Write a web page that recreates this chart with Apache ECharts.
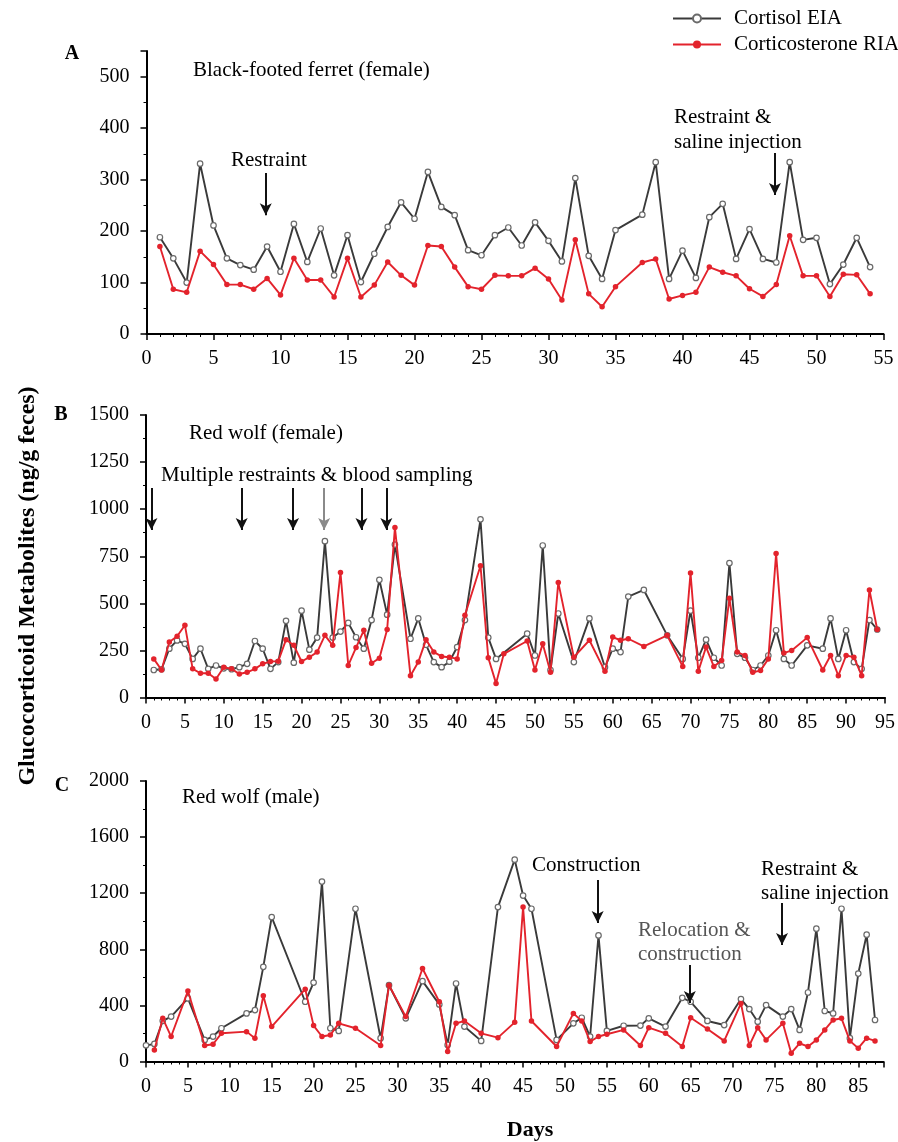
<!DOCTYPE html>
<html>
<head>
<meta charset="utf-8">
<script src="https://cdn.jsdelivr.net/npm/echarts@6/dist/echarts.min.js"></script>
<style>
  html, body { margin: 0; padding: 0; background: #fff; }
  #chart { width: 898px; height: 1142px; }
</style>
</head>
<body>
<div id="chart"></div>
<script>
// ---- Panel A: black-footed ferret (female) ----
const ferretDays = [1,2,3,4,5,6,7,8,9,10,11,12,13,14,15,16,17,18,19,20,21,22,23,24,25,26,27,28,29,30,31,32,33,34,35,36,37,38,39,40,41,42,43,44,45,46,47,48,49,50,51,52,53,54];
const ferretCortisol = [188,147,100,331,211,147,134,125,170,121,214,140,205,114,192,101,156,208,256,224,315,247,231,163,153,192,207,172,217,181,141,303,152,107,202,null,232,334,107,162,109,227,253,146,204,146,139,334,183,187,97,135,187,130];
const ferretCorticosterone = [170,87,81,161,135,96,96,87,108,76,147,105,105,72,147,72,95,140,114,95,172,170,130,92,87,114,113,113,128,107,66,183,78,53,92,null,139,146,68,75,81,130,120,113,88,73,96,191,113,113,73,116,115,78];

// ---- Panel B: red wolf (female) ----
const wolfFemaleDays = [1,2,3,4,5,6,7,8,9,10,11,12,13,14,15,16,17,18,19,20,21,22,23,24,25,26,27,28,29,30,31,32,33,34,35,36,37,38,39,40,41,42,43,44,45,46,47,48,49,50,51,52,53,54,55,56,57,58,59,60,61,62,63,64,65,66,67,68,69,70,71,72,73,74,75,76,77,78,79,80,81,82,83,84,85,86,87,88,89,90,91,92,93,94];
const wolfFemaleCortisol = [146,150,259,303,285,205,259,152,170,155,150,161,179,300,259,152,188,407,185,461,254,318,830,318,350,396,320,259,411,625,440,812,null,312,420,280,188,161,190,268,411,null,946,318,205,null,null,null,339,223,807,146,446,null,188,null,420,null,161,259,241,536,null,571,null,null,330,null,205,461,211,307,211,170,714,232,211,146,170,223,357,205,170,null,277,null,259,420,205,357,188,152,411,361];
const wolfFemaleCorticosterone = [205,146,295,325,384,152,129,129,98,161,152,125,134,152,179,191,193,307,277,191,214,241,330,277,664,170,265,357,182,209,361,902,null,116,188,307,241,218,214,205,437,null,700,211,75,232,null,null,300,146,286,134,611,null,214,null,304,null,139,321,304,312,null,271,null,null,330,null,164,661,139,268,164,196,527,241,223,134,143,205,764,236,250,null,318,null,146,223,116,223,214,116,571,361];

// ---- Panel C: red wolf (male) ----
const wolfMaleDays = [0,1,2,3,4,5,6,7,8,9,10,11,12,13,14,15,16,17,18,19,20,21,22,23,24,25,26,27,28,29,30,31,32,33,34,35,36,37,38,39,40,41,42,43,44,45,46,47,48,49,50,51,52,53,54,55,56,57,58,59,60,61,62,63,64,65,66,67,68,69,70,71,72,73,74,75,76,77,78,79,80,81,82,83,84,85,86,87];
const wolfMaleCortisol = [115,125,290,320,null,450,null,154,178,237,null,null,343,367,675,1030,null,null,null,426,563,1283,237,218,null,1089,null,null,166,544,null,308,null,573,null,407,118,556,249,null,147,null,1101,null,1439,1183,1089,null,null,154,null,272,312,178,899,218,null,255,null,256,308,null,249,null,454,426,null,289,null,260,null,445,374,284,402,null,320,374,225,492,947,360,343,1089,166,627,904,296];
const wolfMaleCorticosterone = [null,82,308,178,null,502,null,114,123,201,null,null,213,166,469,249,null,null,null,516,256,178,189,272,null,237,null,null,114,544,null,320,null,663,null,426,71,272,289,null,201,null,170,null,279,1101,289,null,null,107,null,343,289,142,178,194,null,225,null,114,241,null,201,null,107,312,null,232,null,147,null,414,114,241,154,null,272,59,130,107,154,225,296,308,147,95,166,147];

// ---- Event arrows (day, top value, tip value) ----
const ferretEvents = [[8.9, 313, 231], [46.9, 352, 270]];
const wolfFemaleEvents = [[0.7, 1113, 890], [12.3, 1113, 890], [18.9, 1113, 890], [22.9, 1113, 890], [27.7, 1113, 890], [30.9, 1113, 890]];
const wolfMaleEvents = [[53.9, 1294, 987], [64.9, 688, 417], [75.9, 1130, 830]];

const seriesNames = ['Cortisol EIA', 'Corticosterone RIA'];
const FONT = '"Liberation Serif", "Times New Roman", serif';
const BLACK_LINE = '#3a3a3a';
const RED_LINE = '#e3232c';

function pairs(days, vals) {
  return days.map((d, i) => [d, vals[i]]).filter(p => p[1] !== null);
}

function arrowLines(events, greyIndex) {
  return events.map((e, i) => {
    const c = (i === greyIndex) ? '#8a8a8a' : '#111';
    return [
      { coord: [e[0], e[1]], lineStyle: { color: c } },
      { coord: [e[0], e[2]], lineStyle: { color: c } }
    ];
  });
}

function xAxisFor(idx, max) {
  return {
    type: 'value', gridIndex: idx, min: 0, max: max, interval: 5,
    axisLine: { onZero: false, lineStyle: { color: '#000', width: 2 } },
    axisTick: { length: 6, lineStyle: { color: '#000', width: 1.5 } },
    minorTick: { show: true, splitNumber: 5, length: 3, lineStyle: { color: '#000', width: 1 } },
    splitLine: { show: false },
    axisLabel: {
      color: '#000', fontFamily: FONT, fontSize: 20, margin: 15,
      formatter: v => (v % 5 === 0 ? String(v) : '')
    }
  };
}

function yAxisFor(idx, max, interval) {
  return {
    type: 'value', gridIndex: idx, min: 0, max: max, interval: interval,
    axisLine: { show: true, lineStyle: { color: '#000', width: 2 } },
    axisTick: { show: true, length: 6, lineStyle: { color: '#000', width: 1.5 } },
    minorTick: { show: true, splitNumber: 2, length: 3, lineStyle: { color: '#000', width: 1 } },
    splitLine: { show: false },
    axisLabel: {
      color: '#000', fontFamily: FONT, fontSize: 20, margin: 17,
      formatter: v => (v % interval === 0 ? String(v) : '')
    }
  };
}

function cortisolSeries(idx, days, vals, events, greyIndex) {
  return {
    name: seriesNames[0], type: 'line', xAxisIndex: idx, yAxisIndex: idx,
    data: pairs(days, vals), connectNulls: true,
    symbol: 'circle', symbolSize: 5.5, showAllSymbol: true,
    lineStyle: { color: BLACK_LINE, width: 1.9 },
    itemStyle: { color: '#ffffff', borderColor: '#6a6a6a', borderWidth: 1.2 },
    emphasis: { disabled: true },
    markLine: {
      silent: true, symbol: ['none', 'arrow'], symbolSize: [9, 12],
      label: { show: false }, animation: false,
      lineStyle: { type: 'solid', width: 2, color: '#111' },
      data: arrowLines(events, greyIndex)
    },
    z: 2
  };
}

function corticosteroneSeries(idx, days, vals) {
  return {
    name: seriesNames[1], type: 'line', xAxisIndex: idx, yAxisIndex: idx,
    data: pairs(days, vals), connectNulls: true,
    symbol: 'circle', symbolSize: 5.5, showAllSymbol: true,
    lineStyle: { color: RED_LINE, width: 1.9 },
    itemStyle: { color: RED_LINE },
    emphasis: { disabled: true },
    z: 3
  };
}

function label(text, x, y, opts) {
  opts = opts || {};
  return {
    type: 'text', x: x, y: y, rotation: opts.rotation || 0, silent: true,
    style: {
      text: text, fill: opts.color || '#000',
      font: (opts.bold ? 'bold ' : '') + (opts.size || 21) + 'px ' + FONT,
      align: opts.align || 'left', verticalAlign: 'middle'
    }
  };
}

const chart = echarts.init(document.getElementById('chart'), null, { renderer: 'canvas' });
chart.setOption({
  animation: false,
  backgroundColor: '#ffffff',
  legend: {
    data: seriesNames, orient: 'vertical', left: 672, top: 8, padding: 0,
    itemWidth: 48, itemHeight: 10, itemGap: 5,
    textStyle: { color: '#000', fontFamily: FONT, fontSize: 21, padding: [0, 0, 0, 8] }
  },
  grid: [
    { left: 146.5, top: 51, width: 737, height: 283 },
    { left: 146, top: 415, width: 739, height: 282.5 },
    { left: 146, top: 781, width: 737.4, height: 280.5 }
  ],
  xAxis: [xAxisFor(0, 55), xAxisFor(1, 95), xAxisFor(2, 88)],
  yAxis: [yAxisFor(0, 550, 100), yAxisFor(1, 1500, 250), yAxisFor(2, 2000, 400)],
  series: [
    cortisolSeries(0, ferretDays, ferretCortisol, ferretEvents, -1),
    corticosteroneSeries(0, ferretDays, ferretCorticosterone),
    cortisolSeries(1, wolfFemaleDays, wolfFemaleCortisol, wolfFemaleEvents, 3),
    corticosteroneSeries(1, wolfFemaleDays, wolfFemaleCorticosterone),
    cortisolSeries(2, wolfMaleDays, wolfMaleCortisol, wolfMaleEvents, -1),
    corticosteroneSeries(2, wolfMaleDays, wolfMaleCorticosterone)
  ],
  graphic: [
    label('A', 72, 54, { bold: true, size: 20, align: 'center' }),
    label('Black-footed ferret (female)', 193, 70),
    label('Restraint', 231, 160),
    label('Restraint &', 674, 117),
    label('saline injection', 674, 142),

    label('B', 61, 415, { bold: true, size: 20, align: 'center' }),
    label('Red wolf (female)', 189, 433),
    label('Multiple restraints & blood sampling', 161, 475),

    label('C', 62, 786, { bold: true, size: 20, align: 'center' }),
    label('Red wolf (male)', 182, 797),
    label('Construction', 532, 865),
    label('Relocation &', 638, 930, { color: '#555' }),
    label('construction', 638, 954, { color: '#555' }),
    label('Restraint &', 761, 869),
    label('saline injection', 761, 893),

    label('Glucocorticoid Metabolites (ng/g feces)', 28, 586, { bold: true, size: 24, align: 'center', rotation: Math.PI / 2 }),
    label('Days', 530, 1130, { bold: true, size: 22, align: 'center' })
  ]
});
</script>
</body>
</html>
